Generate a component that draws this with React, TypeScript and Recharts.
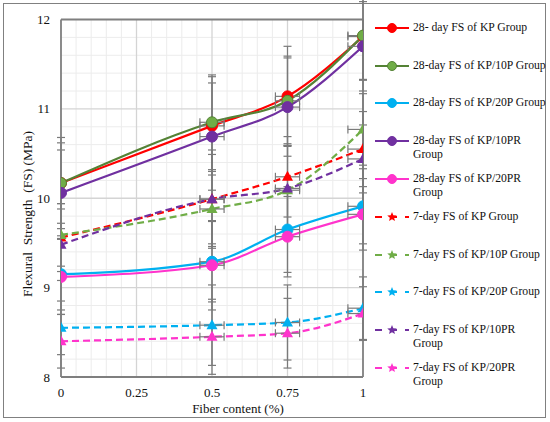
import {
  ComposedChart,
  ErrorBar,
  Line,
  ReferenceLine,
  Scatter,
  XAxis,
  YAxis,
} from "recharts";

const fiber = [0, 0.5, 0.75, 1];
const xTicks = [0, 0.25, 0.5, 0.75, 1];
const yTicks = [8, 9, 10, 11, 12];
const minorX = [0.05, 0.1, 0.15, 0.2, 0.3, 0.35, 0.4, 0.45, 0.55, 0.6, 0.65, 0.7, 0.8, 0.85, 0.9, 0.95];
const minorY = [8.2, 8.4, 8.6, 8.8, 9.2, 9.4, 9.6, 9.8, 10.2, 10.4, 10.6, 10.8, 11.2, 11.4, 11.6, 11.8];

// flexural strength (MPa)
const kp28 = [10.17, 10.81, 11.14, 11.81];
const kp10p28 = [10.17, 10.85, 11.09, 11.82];
const kp20p28 = [9.15, 9.29, 9.65, 9.91];
const kp10pr28 = [10.06, 10.69, 11.02, 11.7];
const kp20pr28 = [9.12, 9.25, 9.57, 9.82];
const kp7 = [9.56, 9.99, 10.24, 10.55];
const kp10p7 = [9.59, 9.88, 10.09, 10.77];
const kp20p7 = [8.55, 8.58, 8.61, 8.77];
const kp10pr7 = [9.48, 9.99, 10.11, 10.44];
const kp20pr7 = [8.4, 8.45, 8.49, 8.71];

// error bars
const errKp28 = [0.51, 0.55, 0.56, 0.48];
const errKp10p28 = [0.45, 0.53, 0.5, 0.5];
const errKp20p28 = [0.4, 0.45, 0.48, 0.42];
const errKp10pr28 = [0.48, 0.6, 0.55, 0.5];
const errKp20pr28 = [0.42, 0.5, 0.45, 0.4];
const errKp7 = [0.38, 0.5, 0.45, 0.42];
const errKp10p7 = [0.35, 0.42, 0.5, 0.4];
const errKp20p7 = [0.3, 0.45, 0.42, 0.35];
const errKp10pr7 = [0.4, 0.55, 0.5, 0.38];
const errKp20pr7 = [0.3, 0.42, 0.39, 0.3];
const xErr = [[0, 0], [0.04, 0.04], [0.04, 0.04], [0.05, 0]];

type Series = {
  key: string;
  name: string[];
  values: number[];
  err: number[];
  color: string;
  fill: string;
  dashed: boolean;
};

const SERIES: Series[] = [
  { key: "kp28", name: ["28- day FS of KP Group"], values: kp28, err: errKp28, color: "#ff0000", fill: "#ff0000", dashed: false },
  { key: "kp10p28", name: ["28-day FS of KP/10P Group"], values: kp10p28, err: errKp10p28, color: "#548235", fill: "#70ad47", dashed: false },
  { key: "kp20p28", name: ["28-day FS of KP/20P Group"], values: kp20p28, err: errKp20p28, color: "#00b0f0", fill: "#00b0f0", dashed: false },
  { key: "kp10pr28", name: ["28-day FS of KP/10PR", "Group"], values: kp10pr28, err: errKp10pr28, color: "#7030a0", fill: "#7030a0", dashed: false },
  { key: "kp20pr28", name: ["28-day FS of KP/20PR", "Group"], values: kp20pr28, err: errKp20pr28, color: "#ff33cc", fill: "#ff33cc", dashed: false },
  { key: "kp7", name: ["7-day FS of KP Group"], values: kp7, err: errKp7, color: "#ff0000", fill: "#ff0000", dashed: true },
  { key: "kp10p7", name: ["7-day FS of KP/10P Group"], values: kp10p7, err: errKp10p7, color: "#70ad47", fill: "#70ad47", dashed: true },
  { key: "kp20p7", name: ["7-day FS of KP/20P Group"], values: kp20p7, err: errKp20p7, color: "#00b0f0", fill: "#00b0f0", dashed: true },
  { key: "kp10pr7", name: ["7-day FS of KP/10PR", "Group"], values: kp10pr7, err: errKp10pr7, color: "#7030a0", fill: "#7030a0", dashed: true },
  { key: "kp20pr7", name: ["7-day FS of KP/20PR", "Group"], values: kp20pr7, err: errKp20pr7, color: "#ff33cc", fill: "#ff33cc", dashed: true },
];

const data = fiber.map((x, i) => {
  const row: Record<string, any> = { x, ex: xErr[i] };
  SERIES.forEach((s) => {
    row[s.key] = s.values[i];
    row[s.key + "_ey"] = s.err[i];
  });
  return row;
});

const pick = (d: any, k: string) =>
  d && d.payload && d.payload[k] !== undefined ? d.payload[k] : d[k];

const FONT = "Liberation Serif, DejaVu Serif, serif";
const AXIS = "#7f7f7f";

function starPoints(cx: number, cy: number, r: number) {
  const pts: string[] = [];
  for (let i = 0; i < 10; i++) {
    const rr = i % 2 === 0 ? r : r * 0.45;
    const a = -Math.PI / 2 + (i * Math.PI) / 5;
    pts.push(`${cx + rr * Math.cos(a)},${cy + rr * Math.sin(a)}`);
  }
  return pts.join(" ");
}

function LegendBox() {
  const rowTops = [21, 59, 96, 134, 172, 210, 248, 285, 323, 361];
  return (
    <div style={{ position: "absolute", left: 370, top: 0 }}>
      {SERIES.map((s, i) => (
        <div key={s.key} style={{ position: "absolute", top: rowTops[i], left: 0, width: 180 }}>
          <svg width={42} height={16} style={{ position: "absolute", left: 0, top: -1 }}>
            <line
              x1={5}
              x2={39}
              y1={8}
              y2={8}
              stroke={s.color}
              strokeWidth={2.2}
              strokeDasharray={s.dashed ? "7 8" : undefined}
            />
            {s.dashed ? (
              <polygon points={starPoints(22, 8, 5)} fill={s.fill} />
            ) : (
              <circle cx={22} cy={8} r={4.5} fill={s.fill} stroke={s.color} />
            )}
          </svg>
          <div
            style={{
              position: "absolute",
              left: 43,
              top: 0,
              fontFamily: FONT,
              fontSize: 11.7,
              lineHeight: "14px",
              whiteSpace: "nowrap",
              color: "#111",
            }}
          >
            {s.name.map((n, j) => (
              <div key={j}>{n}</div>
            ))}
          </div>
        </div>
      ))}
    </div>
  );
}

export default function App() {
  return (
    <div style={{ position: "absolute", left: 0, top: 0, width: 550, height: 422, background: "#fff" }}>
      <div
        style={{
          position: "absolute",
          left: 3,
          top: 3,
          width: 541,
          height: 413,
          border: "1.5px solid #808080",
        }}
      />
      <ComposedChart
        width={550}
        height={422}
        data={data}
        margin={{ top: 19.5, right: 187, bottom: 5, left: 16 }}
        style={{ position: "absolute", left: 0, top: 0 }}
      >
        <XAxis
          dataKey="x"
          type="number"
          domain={[0, 1]}
          ticks={xTicks}
          allowDataOverflow
          height={40}
          tickLine={false}
          tickSize={9}
          tickMargin={2}
          axisLine={{ stroke: AXIS, strokeWidth: 1.8 }}
          tick={{ fill: "#111", fontSize: 13, fontFamily: FONT }}
          tickFormatter={(v: number) => String(v)}
          label={{
            content: (p: any) => {
              const vb = p.viewBox;
              return (
                <text
                  x={vb.x + vb.width / 2 + 26}
                  y={vb.y + vb.height - 4}
                  textAnchor="middle"
                  fontFamily={FONT}
                  fontSize={13}
                  fill="#111"
                >
                  Fiber content (%)
                </text>
              );
            },
          }}
        />
        <YAxis
          type="number"
          domain={[8, 12]}
          ticks={yTicks}
          allowDataOverflow
          width={45}
          tickLine={false}
          tickSize={9}
          tickMargin={2}
          axisLine={{ stroke: AXIS, strokeWidth: 1.8 }}
          tick={{ fill: "#111", fontSize: 13, fontFamily: FONT }}
          label={{
            content: () => {
              const cx = 27;
              const cy = 214;
              return (
                <text
                  x={cx}
                  y={cy}
                  transform={`rotate(-90 ${cx} ${cy})`}
                  textAnchor="middle"
                  dominantBaseline="central"
                  fontFamily={FONT}
                  fontSize={13.5}
                  fill="#111"
                >
                  {"Flexural\u00a0\u00a0Strength\u00a0\u00a0(FS) (MPa)"}
                </text>
              );
            },
          }}
        />
        {minorX.map((v) => (
          <ReferenceLine key={"mx" + v} x={v} stroke="#ececec" strokeWidth={1} />
        ))}
        {minorY.map((v) => (
          <ReferenceLine key={"my" + v} y={v} stroke="#ececec" strokeWidth={1} />
        ))}
        {xTicks.slice(1, -1).map((v) => (
          <ReferenceLine key={"Mx" + v} x={v} stroke="#d4d4d4" strokeWidth={1.3} />
        ))}
        {yTicks.slice(1, -1).map((v) => (
          <ReferenceLine key={"My" + v} y={v} stroke="#d4d4d4" strokeWidth={1.3} />
        ))}
        <ReferenceLine y={12} stroke={AXIS} strokeWidth={1.8} />
        <ReferenceLine x={1} stroke={AXIS} strokeWidth={1.8} />
        {SERIES.map((s) => (
          <Line
            key={"l" + s.key}
            dataKey={s.key}
            type="monotone"
            stroke={s.color}
            strokeWidth={2.2}
            strokeDasharray={s.dashed ? "7 4" : undefined}
            dot={false}
            activeDot={false}
            isAnimationActive={false}
          />
        ))}
        {SERIES.map((s) => (
          <Scatter
            key={"s" + s.key}
            dataKey={s.key}
            isAnimationActive={false}
            shape={(p: any) =>
              s.dashed ? (
                <polygon
                  points={`${p.cx},${p.cy - 6} ${p.cx - 5.5},${p.cy + 4} ${p.cx + 5.5},${p.cy + 4}`}
                  fill={s.fill}
                />
              ) : (
                <circle cx={p.cx} cy={p.cy} r={5.5} fill={s.fill} stroke={s.color} strokeWidth={1} />
              )
            }
          >
            <ErrorBar
              dataKey={(d: any) => pick(d, s.key + "_ey")}
              direction="y"
              width={4}
              stroke="#7a7a7a"
              strokeWidth={1.2}
            />
            <ErrorBar
              dataKey={(d: any) => pick(d, "ex")}
              direction="x"
              width={4}
              stroke="#7a7a7a"
              strokeWidth={1.2}
            />
          </Scatter>
        ))}
      </ComposedChart>
      <LegendBox />
    </div>
  );
}
